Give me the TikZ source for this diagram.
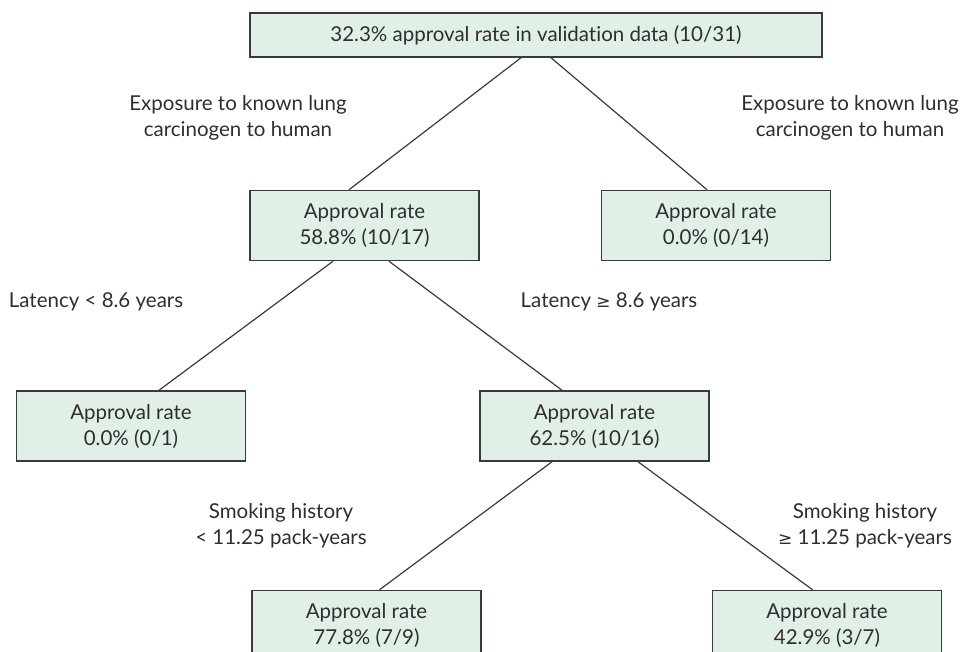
\documentclass[tikz,border=0pt]{standalone}
\usepackage{fontspec}
\setmainfont{Lato}[Ligatures=CommonOff]
\newfontfamily\symfont{DejaVu Sans}
\usepackage{xcolor}
\usetikzlibrary{positioning}
\definecolor{boxfill}{HTML}{E1F0E6}
\definecolor{boxline}{HTML}{3A3A3A}
\definecolor{txtgray}{HTML}{2E2E2E}
\newcommand{\gte}{{\symfont\fontsize{17}{26}\selectfont ≥}}

\begin{document}
\begin{tikzpicture}[x=1pt, y=-1pt, font=\fontsize{20.5}{26}\selectfont, text=txtgray]
  \useasboundingbox (0,0) rectangle (960,652);
  % Styles
  \tikzstyle{rootbox}=[rectangle, draw=boxline, line width=1.5pt, fill=boxfill, minimum width=572pt, minimum height=44pt, inner sep=0pt]
  \tikzstyle{rate}=[rectangle, draw=boxline, line width=1.5pt, fill=boxfill, minimum width=229pt, minimum height=70pt, inner sep=0pt, align=center]
  \tikzstyle{split}=[align=center, inner sep=0pt]
  \tikzstyle{edge}=[line width=1.2pt, draw=boxline]

  % Root
  \node[rootbox] (root) at (536,35) {32.3\% approval rate in validation data (10/31)};
  % First split
  \node[rate, below right=132pt and 0pt of root.south west] (exp) {Approval rate\\58.8\% (10/17)};
  \node[rate, right=121pt of exp] (noexp) {Approval rate\\0.0\% (0/14)};
  % Second split
  \node[rate, below left=129pt and 3pt of exp.south west] (latlo) {Approval rate\\0.0\% (0/1)};
  \node[rate, right=233pt of latlo] (lathi) {Approval rate\\62.5\% (10/16)};
  % Third split
  \node[rate, below right=128pt and 5pt of latlo.south east] (smklo) {Approval rate\\77.8\% (7/9)};
  \node[rate, right=230pt of smklo] (smkhi) {Approval rate\\42.9\% (3/7)};

  % Split labels
  \node[split] (lexp) at (238,118) {Exposure to known lung\\carcinogen to human};
  \node[split] (lnoexp) at (850,118) {Exposure to known lung\\carcinogen to human};
  \node[split] (llatlo) at (96,302) {Latency < 8.6 years};
  \node[split] (llathi) at (609,302) {Latency \gte\ 8.6 years};
  \node[split] (lsmklo) at (281,526) {Smoking history\\< 11.25 pack-years};
  \node[split] (lsmkhi) at (865,526) {Smoking history\\\gte\ 11.25 pack-years};

  % Edges
  \draw[edge] ([xshift=-15pt]root.south) -- ([xshift=-15.5pt]exp.north);
  \draw[edge] ([xshift=15pt]root.south) -- ([xshift=-9pt]noexp.north);
  \draw[edge] ([xshift=-31.5pt]exp.south) -- ([xshift=28pt]latlo.north);
  \draw[edge] ([xshift=24.5pt]exp.south) -- ([xshift=-32.5pt]lathi.north);
  \draw[edge] ([xshift=-42.5pt]lathi.south) -- ([xshift=13pt]smklo.north);
  \draw[edge] ([xshift=43.5pt]lathi.south) -- ([xshift=-14.5pt]smkhi.north);
\end{tikzpicture}
\end{document}
